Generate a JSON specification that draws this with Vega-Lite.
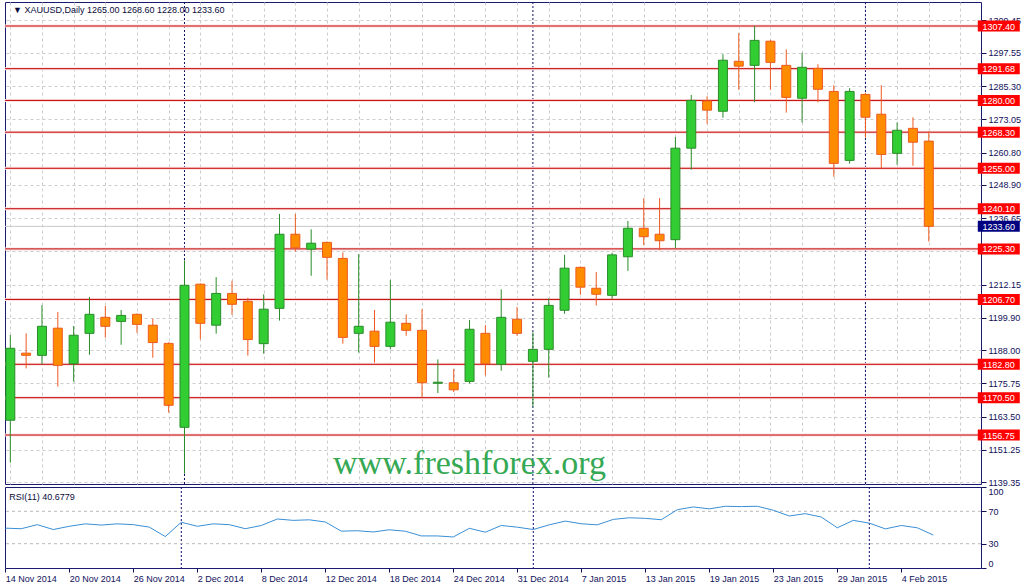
{
  "$schema": "https://vega.github.io/schema/vega-lite/v6.json",
  "background": "white",
  "padding": {"left": 2, "top": 1, "right": 0, "bottom": 0},
  "spacing": 3,
  "bounds": "flush",
  "config": {
    "font": "Liberation Sans",
    "view": {"stroke": "#1a1a70", "strokeWidth": 1},
    "axis": {"labelFont": "Liberation Sans", "labelFontSize": 9, "labelColor": "#10105a", "tickColor": "#10105a", "domain": false, "labelOverlap": false}
  },
  "datasets": {
    "bars": [
      {"i":0,"date":"14 Nov 2014","open":1162.2,"high":1193.6,"low":1146.6,"close":1188.7,"rsi":49.2},
      {"i":1,"date":"17 Nov 2014","open":1186.9,"high":1194.2,"low":1181.3,"close":1186.1,"rsi":48.5},
      {"i":2,"date":"18 Nov 2014","open":1186.1,"high":1204.6,"low":1182.8,"close":1196.8,"rsi":53.5},
      {"i":3,"date":"19 Nov 2014","open":1196.1,"high":1202.1,"low":1174.6,"close":1182.4,"rsi":47.5},
      {"i":4,"date":"20 Nov 2014","open":1183.0,"high":1196.9,"low":1176.4,"close":1193.5,"rsi":51.5},
      {"i":5,"date":"21 Nov 2014","open":1194.2,"high":1207.6,"low":1186.3,"close":1201.2,"rsi":54.5},
      {"i":6,"date":"24 Nov 2014","open":1200.1,"high":1204.3,"low":1192.6,"close":1196.8,"rsi":53.0},
      {"i":7,"date":"25 Nov 2014","open":1198.6,"high":1202.8,"low":1190.0,"close":1200.8,"rsi":54.5},
      {"i":8,"date":"26 Nov 2014","open":1201.2,"high":1201.5,"low":1194.4,"close":1197.5,"rsi":53.5},
      {"i":9,"date":"27 Nov 2014","open":1197.2,"high":1199.6,"low":1185.2,"close":1190.8,"rsi":50.5},
      {"i":10,"date":"28 Nov 2014","open":1190.5,"high":1190.9,"low":1165.0,"close":1167.7,"rsi":38.8},
      {"i":11,"date":"1 Dec 2014","open":1159.6,"high":1221.1,"low":1142.5,"close":1211.9,"rsi":56.5},
      {"i":12,"date":"2 Dec 2014","open":1212.3,"high":1212.6,"low":1192.0,"close":1197.9,"rsi":51.5},
      {"i":13,"date":"3 Dec 2014","open":1197.2,"high":1214.9,"low":1194.1,"close":1208.9,"rsi":54.5},
      {"i":14,"date":"4 Dec 2014","open":1208.9,"high":1213.5,"low":1201.0,"close":1204.9,"rsi":53.5},
      {"i":15,"date":"5 Dec 2014","open":1206.0,"high":1207.3,"low":1186.0,"close":1191.9,"rsi":48.5},
      {"i":16,"date":"8 Dec 2014","open":1190.4,"high":1208.6,"low":1186.7,"close":1203.1,"rsi":52.5},
      {"i":17,"date":"9 Dec 2014","open":1203.4,"high":1238.2,"low":1198.9,"close":1230.7,"rsi":60.5},
      {"i":18,"date":"10 Dec 2014","open":1230.7,"high":1238.2,"low":1224.3,"close":1225.7,"rsi":58.8},
      {"i":19,"date":"11 Dec 2014","open":1225.2,"high":1232.5,"low":1215.4,"close":1227.4,"rsi":59.5},
      {"i":20,"date":"12 Dec 2014","open":1227.7,"high":1228.0,"low":1214.0,"close":1222.2,"rsi":56.8},
      {"i":21,"date":"15 Dec 2014","open":1221.8,"high":1224.0,"low":1190.4,"close":1192.7,"rsi":45.5},
      {"i":22,"date":"16 Dec 2014","open":1194.2,"high":1223.4,"low":1187.1,"close":1196.8,"rsi":46.0},
      {"i":23,"date":"17 Dec 2014","open":1195.0,"high":1202.8,"low":1183.4,"close":1189.4,"rsi":44.5},
      {"i":24,"date":"18 Dec 2014","open":1189.4,"high":1213.8,"low":1188.3,"close":1198.3,"rsi":47.2},
      {"i":25,"date":"19 Dec 2014","open":1197.9,"high":1201.2,"low":1193.3,"close":1195.3,"rsi":45.4},
      {"i":26,"date":"22 Dec 2014","open":1195.3,"high":1203.1,"low":1170.7,"close":1176.0,"rsi":39.6},
      {"i":27,"date":"23 Dec 2014","open":1175.8,"high":1184.6,"low":1172.2,"close":1176.2,"rsi":39.6},
      {"i":28,"date":"24 Dec 2014","open":1176.0,"high":1181.1,"low":1172.6,"close":1173.4,"rsi":38.3},
      {"i":29,"date":"26 Dec 2014","open":1176.5,"high":1199.1,"low":1175.7,"close":1195.7,"rsi":49.0},
      {"i":30,"date":"29 Dec 2014","open":1194.2,"high":1197.2,"low":1178.7,"close":1183.0,"rsi":44.2},
      {"i":31,"date":"30 Dec 2014","open":1182.8,"high":1210.4,"low":1180.4,"close":1200.1,"rsi":52.5},
      {"i":32,"date":"31 Dec 2014","open":1199.4,"high":1203.9,"low":1193.3,"close":1194.2,"rsi":50.4},
      {"i":33,"date":"2 Jan 2015","open":1183.9,"high":1194.6,"low":1167.2,"close":1188.3,"rsi":47.5},
      {"i":34,"date":"5 Jan 2015","open":1188.3,"high":1207.1,"low":1177.9,"close":1204.5,"rsi":53.3},
      {"i":35,"date":"6 Jan 2015","open":1202.7,"high":1223.1,"low":1201.4,"close":1218.2,"rsi":57.9},
      {"i":36,"date":"7 Jan 2015","open":1218.5,"high":1218.8,"low":1208.4,"close":1211.2,"rsi":54.6},
      {"i":37,"date":"8 Jan 2015","open":1210.8,"high":1216.8,"low":1204.5,"close":1208.6,"rsi":53.3},
      {"i":38,"date":"9 Jan 2015","open":1208.2,"high":1223.9,"low":1206.9,"close":1223.1,"rsi":60.0},
      {"i":39,"date":"12 Jan 2015","open":1222.4,"high":1235.6,"low":1217.2,"close":1232.9,"rsi":62.0},
      {"i":40,"date":"13 Jan 2015","open":1232.9,"high":1244.0,"low":1226.7,"close":1229.8,"rsi":61.3},
      {"i":41,"date":"14 Jan 2015","open":1230.7,"high":1244.0,"low":1224.8,"close":1228.3,"rsi":59.6},
      {"i":42,"date":"15 Jan 2015","open":1228.7,"high":1266.5,"low":1225.6,"close":1262.4,"rsi":72.0},
      {"i":43,"date":"16 Jan 2015","open":1262.4,"high":1282.0,"low":1254.5,"close":1280.0,"rsi":75.4},
      {"i":44,"date":"19 Jan 2015","open":1279.8,"high":1281.5,"low":1271.4,"close":1276.4,"rsi":73.0},
      {"i":45,"date":"20 Jan 2015","open":1276.0,"high":1297.0,"low":1273.6,"close":1294.8,"rsi":76.2},
      {"i":46,"date":"21 Jan 2015","open":1294.4,"high":1304.8,"low":1283.9,"close":1292.6,"rsi":75.8},
      {"i":47,"date":"22 Jan 2015","open":1292.9,"high":1307.4,"low":1279.3,"close":1302.1,"rsi":76.2},
      {"i":48,"date":"23 Jan 2015","open":1301.8,"high":1302.2,"low":1283.9,"close":1294.0,"rsi":71.3},
      {"i":49,"date":"26 Jan 2015","open":1292.9,"high":1298.8,"low":1275.5,"close":1281.1,"rsi":64.2},
      {"i":50,"date":"27 Jan 2015","open":1280.8,"high":1297.5,"low":1271.8,"close":1292.2,"rsi":67.1},
      {"i":51,"date":"28 Jan 2015","open":1291.8,"high":1293.3,"low":1279.3,"close":1284.1,"rsi":62.9},
      {"i":52,"date":"29 Jan 2015","open":1283.3,"high":1285.6,"low":1251.9,"close":1256.8,"rsi":49.6},
      {"i":53,"date":"30 Jan 2015","open":1257.9,"high":1284.5,"low":1256.7,"close":1283.3,"rsi":58.8},
      {"i":54,"date":"2 Feb 2015","open":1282.2,"high":1282.8,"low":1266.3,"close":1273.8,"rsi":55.4},
      {"i":55,"date":"3 Feb 2015","open":1274.9,"high":1285.6,"low":1255.0,"close":1260.1,"rsi":48.3},
      {"i":56,"date":"4 Feb 2015","open":1260.5,"high":1271.9,"low":1256.3,"close":1269.0,"rsi":52.5},
      {"i":57,"date":"5 Feb 2015","open":1269.7,"high":1273.8,"low":1255.9,"close":1264.6,"rsi":49.6},
      {"i":58,"date":"6 Feb 2015","open":1265.0,"high":1268.6,"low":1228.0,"close":1233.6,"rsi":40.68}
    ],
    "months": [{"i": 11}, {"i": 33}, {"i": 54}],
    "levels": [
      {"level": 1307.40}, {"level": 1291.68}, {"level": 1280.00}, {"level": 1268.30},
      {"level": 1255.00}, {"level": 1240.10}, {"level": 1225.30}, {"level": 1206.70},
      {"level": 1182.80}, {"level": 1170.50}, {"level": 1156.75}
    ],
    "last": [{"price": 1233.60}],
    "rsiLevels": [{"v": 30}, {"v": 70}]
  },
  "vconcat": [
    {
      "width": 976,
      "height": 482,
      "layer": [
        {
          "data": {"name": "months"},
          "mark": {"type": "rule", "color": "#10106a", "strokeDash": [2, 2], "strokeWidth": 1},
          "encoding": {
            "x": {"field": "i", "type": "quantitative",
                  "scale": {"domain": [-0.019, 60.981], "nice": false, "zero": false},
                  "axis": {"title": null, "grid": true, "tickCount": 200, "values": [0,2,4,6,8,10,12,14,16,18,20,22,24,26,28,30,32,34,36,38,40,42,44,46,48,50,52,54,56,58,60],
                           "gridDash": [3, 3], "gridColor": "#cccccc", "labels": false, "ticks": false, "domain": false, "minExtent": 0, "maxExtent": 0}}
          }
        },
        {
          "data": {"name": "levels"},
          "mark": {"type": "rule", "color": "#fde2e2", "strokeWidth": 3},
          "encoding": {
            "y": {"field": "level", "type": "quantitative",
                  "scale": {"domain": [1138.71, 1316.24], "nice": false, "zero": false},
                  "axis": {"title": null, "orient": "right", "grid": true, "gridDash": [3, 3], "gridColor": "#cccccc", "tickCount": 200,
                           "values": [1139.35,1151.25,1163.5,1175.75,1188.0,1199.9,1212.15,1224.4,1236.65,1248.9,1260.8,1273.05,1285.3,1297.55,1309.45],
                           "labelExpr": "datum.value == 1224.4 ? '' : format(datum.value, '.2f')",
                           "tickSize": 5, "labelPadding": 2, "labelOverlap": false, "labelBound": false}}
          }
        },
        {
          "data": {"name": "levels"},
          "mark": {"type": "rule", "color": "#c00000", "strokeWidth": 1},
          "encoding": {"y": {"field": "level", "type": "quantitative", "title": null}}
        },
        {
          "data": {"name": "last"},
          "mark": {"type": "rule", "color": "#c8c8c8", "strokeWidth": 1},
          "encoding": {"y": {"field": "price", "type": "quantitative", "title": null}}
        },
        {
          "data": {"values": [{}]},
          "mark": {"type": "text", "text": "www.freshforex.org", "font": "Liberation Serif", "fontSize": 34, "color": "#35a853", "align": "center", "baseline": "alphabetic"},
          "encoding": {
            "x": {"datum": 29.0, "type": "quantitative", "title": null},
            "y": {"datum": 1142.4, "type": "quantitative", "title": null}
          }
        },
        {
          "data": {"name": "bars"},
          "mark": {"type": "rule", "strokeWidth": 1, "clip": true},
          "encoding": {
            "x": {"field": "i", "type": "quantitative", "title": null},
            "y": {"field": "low", "type": "quantitative", "title": null},
            "y2": {"field": "high"},
            "color": {"condition": {"test": "datum.close >= datum.open", "value": "#2a8c2a"}, "value": "#ee5a1e"}
          }
        },
        {
          "data": {"name": "bars"},
          "mark": {"type": "bar", "orient": "vertical", "width": 9, "strokeWidth": 1, "clip": true},
          "encoding": {
            "x": {"field": "i", "type": "quantitative", "title": null},
            "y": {"field": "open", "type": "quantitative", "title": null},
            "y2": {"field": "close"},
            "fill": {"condition": {"test": "datum.close >= datum.open", "value": "#32cd32"}, "value": "#ff8c00"},
            "stroke": {"condition": {"test": "datum.close >= datum.open", "value": "#2a8c2a"}, "value": "#ee5a1e"}
          }
        },
        {
          "data": {"values": [{}]},
          "mark": {"type": "text", "text": "▼ XAUUSD,Daily  1265.00 1268.60 1228.00 1233.60", "font": "Liberation Sans", "fontSize": 9, "color": "#0b0b3b", "align": "left", "baseline": "middle"},
          "encoding": {
            "x": {"datum": 0.17, "type": "quantitative", "title": null},
            "y": {"datum": 1313.3, "type": "quantitative", "title": null}
          }
        },
        {
          "data": {"name": "levels"},
          "mark": {"type": "tick", "orient": "horizontal", "size": 42, "thickness": 11, "color": "#ff0000", "opacity": 1, "clip": false},
          "encoding": {
            "x": {"datum": 62.42, "type": "quantitative", "title": null},
            "y": {"field": "level", "type": "quantitative", "title": null}
          }
        },
        {
          "data": {"name": "levels"},
          "mark": {"type": "text", "font": "Liberation Sans", "fontSize": 9, "color": "white", "align": "center", "baseline": "middle", "dy": 0.5},
          "encoding": {
            "x": {"datum": 62.42, "type": "quantitative", "title": null},
            "y": {"field": "level", "type": "quantitative", "title": null},
            "text": {"field": "level", "type": "quantitative", "format": ".2f"}
          }
        },
        {
          "data": {"name": "last"},
          "mark": {"type": "tick", "orient": "horizontal", "size": 42, "thickness": 11, "color": "#000080", "opacity": 1, "clip": false},
          "encoding": {
            "x": {"datum": 62.42, "type": "quantitative", "title": null},
            "y": {"field": "price", "type": "quantitative", "title": null}
          }
        },
        {
          "data": {"name": "last"},
          "mark": {"type": "text", "font": "Liberation Sans", "fontSize": 9, "color": "white", "align": "center", "baseline": "middle", "dy": 0.5},
          "encoding": {
            "x": {"datum": 62.42, "type": "quantitative", "title": null},
            "y": {"field": "price", "type": "quantitative", "title": null},
            "text": {"field": "price", "type": "quantitative", "format": ".2f"}
          }
        }
      ]
    },
    {
      "width": 976,
      "height": 81,
      "layer": [
        {
          "data": {"name": "months"},
          "mark": {"type": "rule", "color": "#10106a", "strokeDash": [2, 2], "strokeWidth": 1},
          "encoding": {
            "x": {"field": "i", "type": "quantitative",
                  "scale": {"domain": [-0.019, 60.981], "nice": false, "zero": false},
                  "axis": {"title": null, "grid": false, "tickCount": 200, "values": [0,4,8,12,16,20,24,28,32,36,40,44,48,52,56],
                           "labelExpr": "['14 Nov 2014','20 Nov 2014','26 Nov 2014','2 Dec 2014','8 Dec 2014','12 Dec 2014','18 Dec 2014','24 Dec 2014','31 Dec 2014','7 Jan 2015','13 Jan 2015','19 Jan 2015','23 Jan 2015','29 Jan 2015','4 Feb 2015'][round(datum.value/4)]",
                           "labelAlign": "left", "tickSize": 4, "labelPadding": 2, "labelOverlap": false, "labelBound": false}}
          }
        },
        {
          "data": {"name": "rsiLevels"},
          "mark": {"type": "rule", "color": "#b8b8b8", "strokeDash": [3, 3], "strokeWidth": 1},
          "encoding": {
            "y": {"field": "v", "type": "quantitative",
                  "scale": {"domain": [0, 100], "nice": false, "zero": false},
                  "axis": {"title": null, "orient": "right", "values": [0, 30, 70, 100], "tickCount": 200, "grid": false, "format": "d",
                           "labelFlush": true, "labelOverlap": false, "tickSize": 5, "labelPadding": 2}}
          }
        },
        {
          "data": {"name": "bars"},
          "mark": {"type": "line", "color": "#3a8fd6", "strokeWidth": 1},
          "encoding": {
            "x": {"field": "i", "type": "quantitative", "title": null},
            "y": {"field": "rsi", "type": "quantitative", "title": null}
          }
        },
        {
          "data": {"values": [{}]},
          "mark": {"type": "text", "text": "RSI(11) 40.6779", "font": "Liberation Sans", "fontSize": 9, "color": "#0b0b3b", "align": "left", "baseline": "middle"},
          "encoding": {
            "x": {"datum": 0.25, "type": "quantitative", "title": null},
            "y": {"datum": 88, "type": "quantitative", "title": null}
          }
        }
      ]
    }
  ]
}
